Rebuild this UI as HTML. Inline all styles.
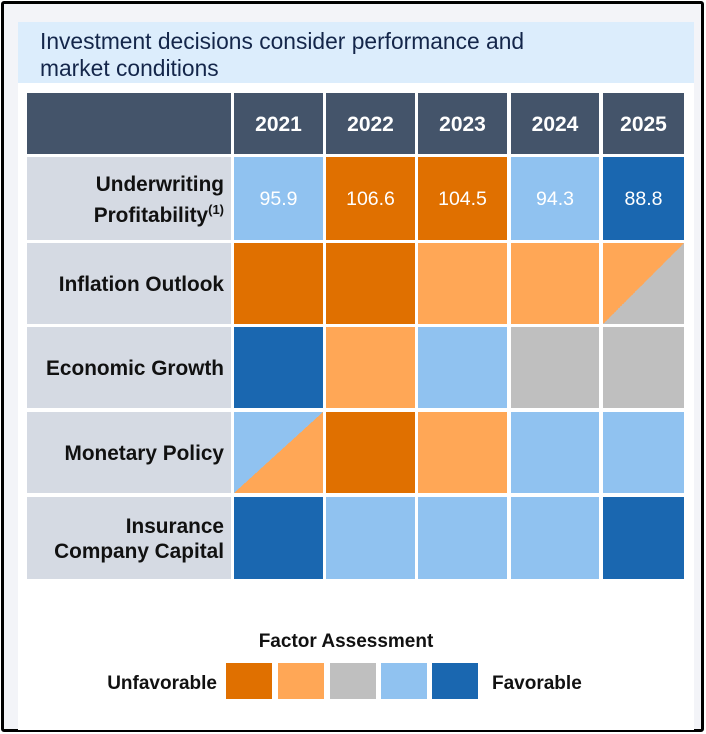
<!DOCTYPE html>
<html><head><meta charset="utf-8"><style>
body{margin:0;width:706px;height:734px;background:#fff;position:relative;overflow:hidden;font-family:"Liberation Sans",Arial,sans-serif}
.abs{position:absolute;box-sizing:border-box}
.lbl{display:flex;align-items:center;justify-content:flex-end;text-align:right;font-weight:bold;font-size:20.8px;color:#111;padding-right:7px;padding-top:2px;line-height:25px;background:#d5dae3}
.hdr{background:#44546a;color:#fff;font-weight:bold;font-size:21px;display:flex;align-items:center;justify-content:center;padding-top:3px}
.cell{display:flex;align-items:center;justify-content:center;color:#fff;font-size:19.5px;padding-top:2px}
</style></head><body>
<div class="abs" style="left:1px;top:1px;width:703px;height:731px;border:3px solid #000;border-radius:3px;background:#f3f4f8"></div>
<div class="abs" style="left:18px;top:22px;width:676px;height:708px;background:#fff"></div>
<div class="abs" style="left:18px;top:22px;width:676px;height:61px;background:#dcedfc"></div>
<div class="abs" style="left:40px;top:28px;font-size:22.8px;line-height:27px;color:#14264a">Investment decisions consider performance and<br>market conditions</div>
<div id="grid"></div>
<div class="abs" style="left:180px;width:332px;top:631px;text-align:center;font-weight:bold;font-size:19px;color:#111">Factor Assessment</div>
<div class="abs" style="left:60px;width:157px;top:673px;text-align:right;font-weight:bold;font-size:19px;color:#111">Unfavorable</div>
<div class="abs" style="left:492px;top:673px;font-weight:bold;font-size:19px;color:#111">Favorable</div>
<script>
const years=["2021","2022","2023","2024","2025"];
const factors=["Underwriting<br>Profitability<sup style='font-size:13px'>(1)</sup>","Inflation Outlook","Economic Growth","Monetary Policy","Insurance<br>Company Capital"];
const factorNames=["underwriting-profitability","inflation-outlook","economic-growth","monetary-policy","insurance-company-capital"];
// assessment levels: 0 unfavorable .. 4 favorable; split cells "a/b" (top-left / bottom-right)
const row0=[3,0,0,3,4];
const row1=[0,0,1,1,"1/2"];
const row2=[4,1,3,2,2];
const row3=["3/1",0,1,3,3];
const row4=[4,3,3,3,4];
const ratios=["95.9","106.6","104.5","94.3","88.8"];
const levelColors=["#e07000","#ffa756","#bfbfbf","#90c2f0","#1a67b0"];
const rows=[row0,row1,row2,row3,row4];
const colX=[234,326,418,511,603], colW=[89,89,89,88,81];
const rowY=[157,243,327,412,497], rowH=[83,81,81,81,82];
const g=document.getElementById('grid');
function mk(cls,l,t,w,h){const d=document.createElement('div');d.className='abs '+cls;d.style.left=l+'px';d.style.top=t+'px';d.style.width=w+'px';d.style.height=h+'px';g.appendChild(d);return d;}
let h=mk('hdr',27,93,204,61);


years.forEach((y,i)=>{const d=mk('hdr',colX[i],93,colW[i],61);d.textContent=y;

});
rows.forEach((r,ri)=>{
 const l=mk('lbl',27,rowY[ri],204,rowH[ri]);l.innerHTML='<span>'+factors[ri]+'</span>';
 
 
 r.forEach((v,ci)=>{
  const c=mk('cell',colX[ci],rowY[ri],colW[ci],rowH[ri]);
  
  
  if(typeof v==='string'){const [a,b]=v.split('/').map(Number);
   c.style.background=`linear-gradient(to top left, ${levelColors[b]} 50%, ${levelColors[a]} 50%)`;}
  else c.style.background=levelColors[v];
  if(ri===0)c.textContent=ratios[ci];
 });
});
const lx=[226,278,330,381,432];
levelColors.forEach((col,i)=>{const s=mk('',lx[i],663,46,36);s.style.background=col;

});
</script>
</body></html>
